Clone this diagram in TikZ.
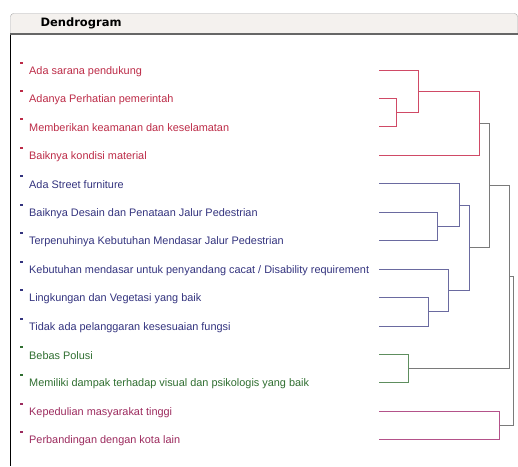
\documentclass[tikz,border=0pt]{standalone}
\usepackage{fontspec}
\setmainfont{Liberation Sans}
\newfontfamily\headfont{DejaVu Sans}
\usepackage{xcolor}
\usepackage{tikz}
\usetikzlibrary{positioning}

\definecolor{redtxt}{HTML}{BC2B47}
\definecolor{redln}{HTML}{D04A66}
\definecolor{bluetxt}{HTML}{33337E}
\definecolor{blueln}{HTML}{6A6AA0}
\definecolor{greentxt}{HTML}{2F6E30}
\definecolor{greenln}{HTML}{5E8E5E}
\definecolor{pinktxt}{HTML}{9C2B5E}
\definecolor{pinkln}{HTML}{B4528A}
\definecolor{joinln}{HTML}{7A7A7A}
\definecolor{headfill}{HTML}{F4F1EE}

\begin{document}
\begin{tikzpicture}[
  x=1pt, y=-1pt,
  leaf/.style={anchor=west, inner sep=0pt, font=\fontsize{10.9}{12}\selectfont},
  bullet/.style={rectangle, inner sep=0pt, minimum size=2.6pt, fill},
  br/.style={line width=1pt},
  head/.style={font=\headfont\bfseries\fontsize{11.5}{13}\selectfont, anchor=west}
]
\useasboundingbox (0,0) rectangle (518,466);

% panel and header
\draw[line width=1pt] (10.5,34) -- (10.5,466);
\draw[draw=gray!70, fill=headfill, rounded corners=3pt] (10.5,34) -- (10.5,13.5) -- (517.5,13.5) -- (517.5,34);
\draw[line width=2pt, gray!80!black] (10,34) -- (518,34);
\node[head] (title) at (37,23.5) {Dendrogram};

% labels
\node[leaf, text=redtxt] at (29,71.5) (t1) {Ada sarana pendukung};
\node[leaf, text=redtxt] at (29,99.5) (t2) {Adanya Perhatian pemerintah};
\node[leaf, text=redtxt] at (29,127.5) (t3) {Memberikan keamanan dan keselamatan};
\node[leaf, text=redtxt] at (29,156.5) (t4) {Baiknya kondisi material};
\node[leaf, text=bluetxt] at (29,184.5) (t5) {Ada Street furniture};
\node[leaf, text=bluetxt] at (29,213.5) (t6) {Baiknya Desain dan Penataan Jalur Pedestrian};
\node[leaf, text=bluetxt] at (29,241.5) (t7) {Terpenuhinya Kebutuhan Mendasar Jalur Pedestrian};
\node[leaf, text=bluetxt] at (29,270.5) (t8) {Kebutuhan mendasar untuk penyandang cacat / Disability requirement};
\node[leaf, text=bluetxt] at (29,298.5) (t9) {Lingkungan dan Vegetasi yang baik};
\node[leaf, text=bluetxt] at (29,327.5) (t10) {Tidak ada pelanggaran kesesuaian fungsi};
\node[leaf, text=greentxt] at (29,355.5) (t11) {Bebas Polusi};
\node[leaf, text=greentxt] at (29,383.5) (t12) {Memiliki dampak terhadap visual dan psikologis yang baik};
\node[leaf, text=pinktxt] at (29,412.5) (t13) {Kepedulian masyarakat tinggi};
\node[leaf, text=pinktxt] at (29,440.5) (t14) {Perbandingan dengan kota lain};

% markers
\node[bullet, fill=redtxt] at (21.5,63) (b1) {};
\node[bullet, fill=redtxt] at (21.5,91) (b2) {};
\node[bullet, fill=redtxt] at (21.5,119) (b3) {};
\node[bullet, fill=redtxt] at (21.5,148) (b4) {};
\node[bullet, fill=bluetxt] at (21.5,176) (b5) {};
\node[bullet, fill=bluetxt] at (21.5,205) (b6) {};
\node[bullet, fill=bluetxt] at (21.5,233) (b7) {};
\node[bullet, fill=bluetxt] at (21.5,262) (b8) {};
\node[bullet, fill=bluetxt] at (21.5,290) (b9) {};
\node[bullet, fill=bluetxt] at (21.5,319) (b10) {};
\node[bullet, fill=greentxt] at (21.5,347) (b11) {};
\node[bullet, fill=greentxt] at (21.5,375) (b12) {};
\node[bullet, fill=pinktxt] at (21.5,404) (b13) {};
\node[bullet, fill=pinktxt] at (21.5,432) (b14) {};

% leaf ends
\coordinate (l1) at (379,70.5);
\coordinate (l2) at (379,98.5);
\coordinate (l3) at (379,126.5);
\coordinate (l4) at (379,155.5);
\coordinate (l5) at (379,183.5);
\coordinate (l6) at (379,212.5);
\coordinate (l7) at (379,240.5);
\coordinate (l8) at (379,269.5);
\coordinate (l9) at (379,297.5);
\coordinate (l10) at (379,326.5);
\coordinate (l11) at (379,354.5);
\coordinate (l12) at (379,382.5);
\coordinate (l13) at (379,411.5);
\coordinate (l14) at (379,439.5);

% merge points
\coordinate (m23) at (396.5,112.5);
\coordinate (m123) at (418.5,91.5);
\coordinate (mred) at (479.5,123.5);
\coordinate (m67) at (437.5,226.5);
\coordinate (m567) at (459.5,205.5);
\coordinate (m910) at (428.5,311.5);
\coordinate (m8910) at (448.5,290.5);
\coordinate (mblue) at (469.5,247.5);
\coordinate (mrb) at (489.5,185.5);
\coordinate (mgreen) at (408.5,368.5);
\coordinate (mrbg) at (509.5,276.5);
\coordinate (mpink) at (499.5,425.5);
\coordinate (mroot) at (513.5,350.5);

% red cluster
\draw[br, redln] (l2) -| (m23) |- (l3);
\draw[br, redln] (l1) -| (m123) |- (m23);
\draw[br, redln] (m123) -| (mred) |- (l4);

% blue cluster
\draw[br, blueln] (l6) -| (m67) |- (l7);
\draw[br, blueln] (l5) -| (m567) |- (m67);
\draw[br, blueln] (l9) -| (m910) |- (l10);
\draw[br, blueln] (l8) -| (m8910) |- (m910);
\draw[br, blueln] (m567) -| (mblue) |- (m8910);

% green and pink
\draw[br, greenln] (l11) -| (mgreen) |- (l12);
\draw[br, pinkln] (l13) -| (mpink) |- (l14);

% joins
\draw[br, joinln] (mred) -| (mrb) |- (mblue);
\draw[br, joinln] (mrb) -| (mrbg) |- (mgreen);
\draw[br, joinln] (mrbg) -| (mroot) |- (mpink);

\end{tikzpicture}
\end{document}
